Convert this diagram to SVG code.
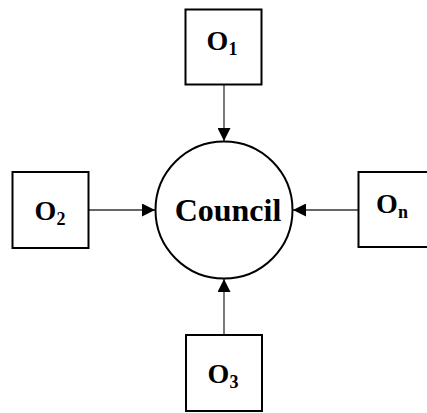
<svg xmlns="http://www.w3.org/2000/svg" width="427" height="413" viewBox="0 0 427 413">
<style>
.box{fill:#fff;stroke:#000;stroke-width:2}
.lbl{font-family:"Liberation Serif","Times New Roman",serif;font-weight:bold;font-size:28px;fill:#000}
.sub{font-size:18px}
.edge{stroke:#333;stroke-width:1.3;fill:none}
</style>
<defs>
<marker id="ah" viewBox="0 0 10 10" refX="10" refY="5" markerWidth="13" markerHeight="13" markerUnits="userSpaceOnUse" orient="auto">
<path d="M0,0 L10,5 L0,10 Z" fill="#000"/>
</marker>
</defs>
<rect width="427" height="413" fill="#fff"/>
<g id="connectors">
<line class="edge" x1="224" y1="84" x2="224" y2="141" marker-end="url(#ah)"/>
<line class="edge" x1="88" y1="210" x2="155" y2="210" marker-end="url(#ah)"/>
<line class="edge" x1="358" y1="210" x2="293" y2="210" marker-end="url(#ah)"/>
<line class="edge" x1="224" y1="335" x2="224" y2="279" marker-end="url(#ah)"/>
</g>
<g id="council">
<circle cx="224" cy="210" r="68.5" fill="#fff" stroke="#000" stroke-width="2"/>
<text class="lbl" x="228" y="221" text-anchor="middle" style="font-size:32px">Council</text>
</g>
<g id="o1">
<rect class="box" x="185.5" y="9.5" width="76" height="75"/>
<text class="lbl" x="222" y="50" text-anchor="middle">O<tspan class="sub" dy="5">1</tspan></text>
</g>
<g id="o2">
<rect class="box" x="12.5" y="172" width="76" height="76"/>
<text class="lbl" x="50" y="220" text-anchor="middle">O<tspan class="sub" dy="5">2</tspan></text>
</g>
<g id="on">
<rect class="box" x="358.5" y="172" width="76" height="75"/>
<text class="lbl" x="392" y="213" text-anchor="middle">O<tspan class="sub" dy="5">n</tspan></text>
</g>
<g id="o3">
<rect class="box" x="186" y="335" width="76" height="76"/>
<text class="lbl" x="223" y="383" text-anchor="middle">O<tspan class="sub" dy="5">3</tspan></text>
</g>
</svg>
